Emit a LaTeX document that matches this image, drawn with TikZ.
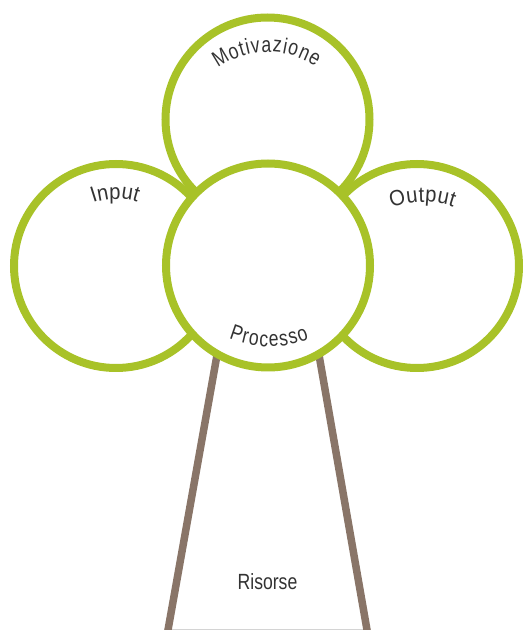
\documentclass[tikz,border=0pt]{standalone}
\usepackage{fontspec}
\setmainfont{Liberation Sans}
\newfontfamily\dglblfont[FakeStretch=0.8]{Liberation Sans}
\newfontfamily\dgwidefont[FakeStretch=0.92]{Liberation Sans}
\newcommand\dglbl{\dglblfont\fontsize{22}{26}\selectfont}
\newcommand\dgwide{\dgwidefont\fontsize{22}{26}\selectfont}
\usetikzlibrary{decorations.text}
\definecolor{leafgreen}{RGB}{168,194,40}
\definecolor{trunkbrown}{RGB}{137,117,104}
\definecolor{labelgrey}{RGB}{51,51,51}
\definecolor{groundgrey}{RGB}{212,212,212}
\tikzset{
  ring/.style={circle, draw=leafgreen, line width=8pt, fill=white, minimum size=204pt, inner sep=0pt},
  trunkline/.style={draw=trunkbrown, line width=7.5pt},
  groundline/.style={draw=groundgrey, line width=1.2pt},
  arclabel/.style={decorate, decoration={text along path, text align=fit to path, text color=labelgrey, text={|\dglbl|#1}}},
  widearclabel/.style={decorate, decoration={text along path, text align=fit to path, text color=labelgrey, text={|\dgwide|#1}}},
}
\begin{document}
\begin{tikzpicture}[x=1pt,y=1pt]
\useasboundingbox (0,0) rectangle (523,630);
\clip (0,0) rectangle (523,630);
% trunk
\coordinate (tl1) at (219.7,290);
\coordinate (tl2) at (167.1,-5);
\coordinate (tr1) at (316.4,290);
\coordinate (tr2) at (367.9,-5);
\coordinate (gl) at (170,0.6);
\coordinate (gr) at (366,0.6);
\draw[groundline] (gl) -- (gr);
\draw[trunkline] (tl1) -- (tl2);
\draw[trunkline] (tr1) -- (tr2);
% circles
\node[ring] (input) at (116,364) {};
\node[ring] (output) at (417,364) {};
\node[ring] (motiv) at (267.5,510.5) {};
\node[ring] (proc) at (268,364.5) {};
% labels
\coordinate (motc) at (268,493);
\coordinate (procc) at (269,390.5);
\coordinate (outc) at (424,338);
\path[arclabel={Motivazione}] ([shift={(126:85)}]motc) arc[start angle=126, end angle=56, radius=85];
\path[widearclabel={Input}] ([shift={(110:67)}]input.center) arc[start angle=110, end angle=72.5, radius=67];
\path[widearclabel={Output}] ([shift={(111:90)}]outc) arc[start angle=111, end angle=71, radius=90];
\path[arclabel={Processo}] ([shift={(248:107)}]procc) arc[start angle=248, end angle=292, radius=107];
\node[anchor=base, text=labelgrey, font=\dglbl, inner sep=0pt] (risorse) at (267.5,41) {Risorse};
\end{tikzpicture}
\end{document}
